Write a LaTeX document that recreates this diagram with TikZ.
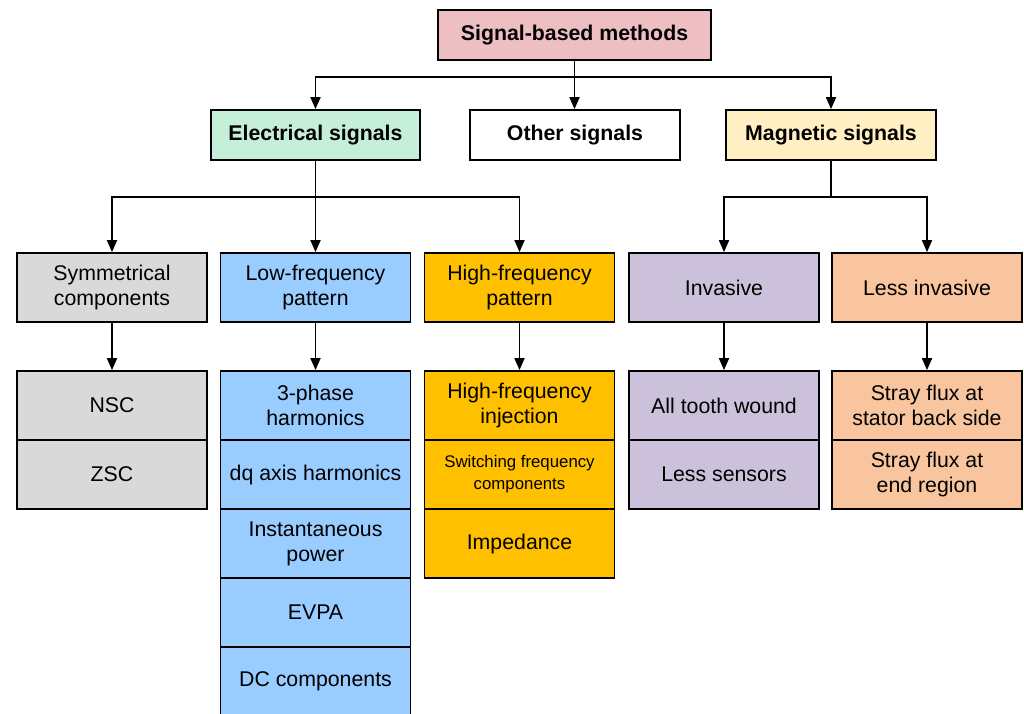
\documentclass[tikz,border=0pt]{standalone}
\usepackage{fontspec}
\setmainfont{Liberation Sans}
\usetikzlibrary{arrows.meta}
\definecolor{cpink}{HTML}{EDBFC3}
\definecolor{cgreen}{HTML}{C6EFD9}
\definecolor{cyell}{HTML}{FFEFC2}
\definecolor{cgray}{HTML}{D9D9D9}
\definecolor{cblue}{HTML}{99CCFF}
\definecolor{corange}{HTML}{FFC000}
\definecolor{clav}{HTML}{CCC1DA}
\definecolor{cpeach}{HTML}{F8C59E}
\begin{document}
\begin{tikzpicture}[x=1pt,y=-1pt,
  box/.style={draw=black, line width=1.8pt, align=center, inner sep=2pt, text=black,
    font=\fontsize{21.3}{25}\selectfont},
  topbox/.style={box, font=\bfseries\fontsize{21.3}{25}\selectfont, minimum height=50pt},
  cell/.style={box, minimum width=190pt, minimum height=69pt},
  arr/.style={line width=1.8pt, -{Triangle[length=12pt,width=10pt]}},
  ln/.style={line width=1.8pt}]
\useasboundingbox (0,0) rectangle (1024,713);
\fill[white] (0,0) rectangle (1024,713);

% level 0 and 1
\node[topbox, fill=cpink, minimum width=273pt] (root) at (574.5,35) {Signal-based methods};
\node[topbox, fill=cgreen, minimum width=209pt] (elec) at (315.5,135) {Electrical signals};
\node[topbox, fill=white, minimum width=210pt] (other) at (575,135) {Other signals};
\node[topbox, fill=cyell, minimum width=210pt] (mag) at (831,135) {Magnetic signals};

% level 2
\node[cell, fill=cgray] (sym) at (112,287.5) {Symmetrical\\components};
\node[cell, fill=cblue] (low) at (315.5,287.5) {Low-frequency\\pattern};
\node[cell, fill=corange] (high) at (519.5,287.5) {High-frequency\\pattern};
\node[cell, fill=clav] (inv) at (724,287.5) {Invasive};
\node[cell, fill=cpeach] (less) at (927,287.5) {Less invasive};

% level 3 columns
\node[cell, fill=cgray] (nsc) at (112,405.5) {NSC};
\node[cell, fill=cgray] (zsc) at (112,474.5) {ZSC};

\node[cell, fill=cblue] (tph) at (315.5,405.5) {3-phase\\harmonics};
\node[cell, fill=cblue] (dq) at (315.5,474.5) {dq axis harmonics};
\node[cell, fill=cblue] (ip) at (315.5,543.5) {Instantaneous\\power};
\node[cell, fill=cblue] (evpa) at (315.5,612.5) {EVPA};
\node[cell, fill=cblue] (dc) at (315.5,681.5) {DC components};

\node[cell, fill=corange] (hfi) at (519.5,405.5) {High-frequency\\injection};
\node[cell, fill=corange, font=\fontsize{16.8}{22}\selectfont] (sw) at (519.5,474.5) {Switching frequency\\components};
\node[cell, fill=corange] (imp) at (519.5,543.5) {Impedance};

\node[cell, fill=clav] (atw) at (724,405.5) {All tooth wound};
\node[cell, fill=clav] (ls) at (724,474.5) {Less sensors};

\node[cell, fill=cpeach] (sfb) at (927,405.5) {Stray flux at\\stator back side};
\node[cell, fill=cpeach] (sfe) at (927,474.5) {Stray flux at\\end region};

% connectors
\coordinate (j1) at (574.5,77);
\draw[ln] (root.south) -- (j1);
\draw[arr] (j1) -| (elec.north);
\draw[arr] (j1) -| (mag.north);
\draw[arr] (j1) -- (j1 |- other.north);

\coordinate (j2) at (315.5,197);
\draw[ln] (elec.south) -- (j2);
\draw[arr] (j2) -| (sym.north);
\draw[arr] (j2) -| (high.north);
\draw[arr] (j2) -- (low.north);

\coordinate (j3) at (831,197);
\draw[ln] (mag.south) -- (j3);
\draw[arr] (j3) -| (inv.north);
\draw[arr] (j3) -| (less.north);

\draw[arr] (sym.south) -- (nsc.north);
\draw[arr] (low.south) -- (tph.north);
\draw[arr] (high.south) -- (hfi.north);
\draw[arr] (inv.south) -- (atw.north);
\draw[arr] (less.south) -- (sfb.north);
\end{tikzpicture}
\end{document}
